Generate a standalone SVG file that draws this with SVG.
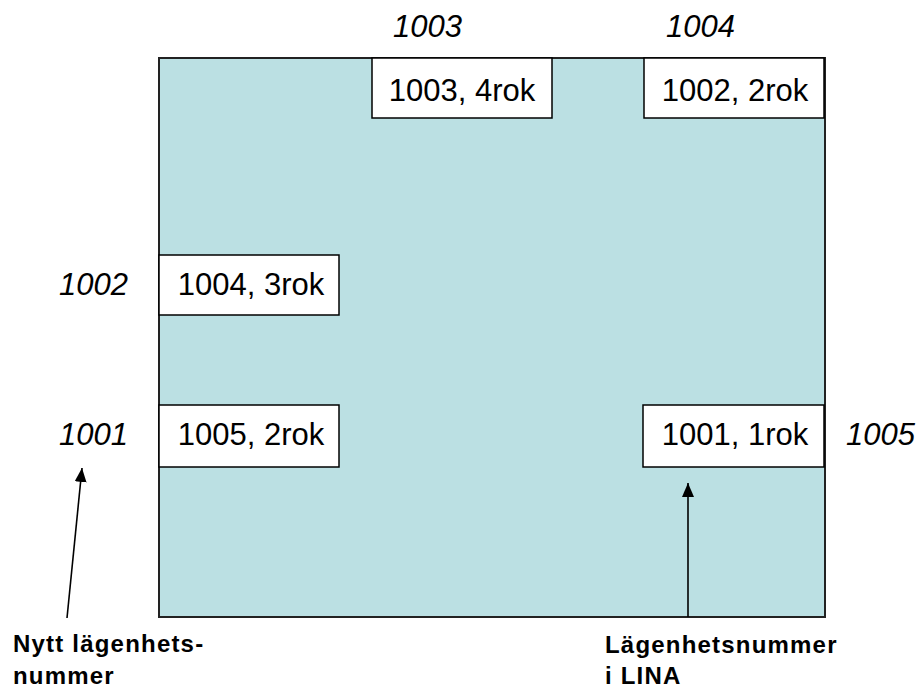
<svg xmlns="http://www.w3.org/2000/svg" width="920" height="688" viewBox="0 0 920 688">
<style>
.box{fill:#fff;stroke:#000;stroke-width:1.5}
.bt{font-family:"Liberation Sans",Arial,sans-serif;font-size:31px;fill:#000;text-anchor:middle}
.it{font-family:"Liberation Sans",Arial,sans-serif;font-size:31px;font-style:italic;fill:#000}
.bl{font-family:"Liberation Sans",Arial,sans-serif;font-size:24px;font-weight:bold;letter-spacing:1.2px;fill:#000}
.ln{stroke:#000;stroke-width:1.6;fill:none}
</style>
<defs>
<marker id="ah" viewBox="0 0 14 12" refX="14" refY="6" markerWidth="14" markerHeight="12" markerUnits="userSpaceOnUse" orient="auto">
<path d="M14 6 L0 0 L0 12 Z" fill="#000"/>
</marker>
</defs>
<rect id="building" x="159" y="58" width="666" height="559" fill="#BBE0E3" stroke="#222" stroke-width="2"/>
<g id="n1003">
<rect class="box" x="372" y="58" width="180" height="60"/>
<text class="bt" x="462" y="101">1003, 4rok</text>
<text class="it" x="393" y="37">1003</text>
</g>
<g id="n1002">
<rect class="box" x="644" y="58" width="180" height="60"/>
<text class="bt" x="735" y="101">1002, 2rok</text>
<text class="it" x="666" y="37">1004</text>
</g>
<g id="n1004">
<rect class="box" x="159" y="255" width="180" height="60"/>
<text class="bt" x="251" y="295">1004, 3rok</text>
<text class="it" x="59" y="295">1002</text>
</g>
<g id="n1005">
<rect class="box" x="159" y="405" width="180" height="62"/>
<text class="bt" x="251" y="445">1005, 2rok</text>
<text class="it" x="59" y="445">1001</text>
</g>
<g id="n1001">
<rect class="box" x="643" y="405" width="181" height="62"/>
<text class="bt" x="735" y="445">1001, 1rok</text>
<text class="it" x="846" y="445">1005</text>
</g>
<g id="connectors">
<line class="ln" x1="67" y1="618" x2="82" y2="468" marker-end="url(#ah)"/>
<line class="ln" x1="688" y1="617" x2="688" y2="483" marker-end="url(#ah)"/>
</g>
<g id="label-new">
<text class="bl" x="13" y="652">Nytt lägenhets-</text>
<text class="bl" x="13" y="684">nummer</text>
</g>
<g id="label-lina">
<text class="bl" x="605" y="653">Lägenhetsnummer</text>
<text class="bl" x="605" y="684">i LINA</text>
</g>
</svg>
